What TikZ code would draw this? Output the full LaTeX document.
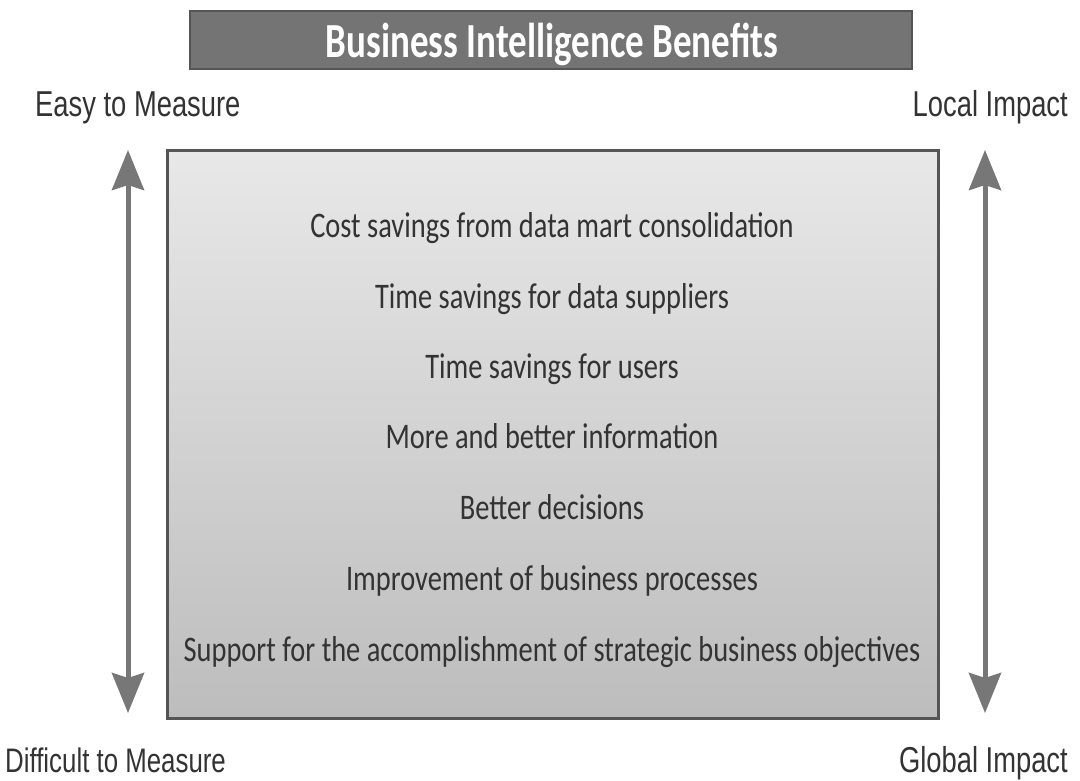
\documentclass[tikz,border=0pt]{standalone}
\usepackage{fontspec}
\setmainfont[FakeStretch=0.79]{Carlito}
\newfontfamily\titlefont[FakeStretch=0.755]{Carlito}
\newfontfamily\arialfont[FakeStretch=0.76]{Liberation Sans}
\usetikzlibrary{arrows.meta}
\definecolor{titlegray}{HTML}{747474}
\definecolor{bordergray}{HTML}{555555}
\definecolor{arrowgray}{HTML}{777777}
\definecolor{txtgray}{HTML}{333333}
\tikzset{
  benefit/.style={font=\fontsize{36}{38}\selectfont, text=txtgray, anchor=base, inner sep=0pt},
  sidelabel/.style={font=\arialfont\fontsize{36}{38}\selectfont, text=txtgray, inner sep=0pt},
  bigarrow/.style={line width=5pt, draw=arrowgray, fill=arrowgray,
    {Stealth[width=32pt,length=40pt,inset=5pt]}-{Stealth[width=32pt,length=40pt,inset=5pt]}},
}
\begin{document}
\begin{tikzpicture}[x=1pt,y=-1pt]
\useasboundingbox (0,0) rectangle (1080,780);
\fill[white] (0,0) rectangle (1080,780);
% title
\node[fill=titlegray, draw=bordergray, line width=2pt, minimum width=722pt, minimum height=58pt, inner sep=0pt] (title) at (551,40) {};
\node[font=\titlefont\bfseries\fontsize{49}{51}\selectfont, text=white, anchor=base, inner sep=0pt] (titletext) at (552,57) {Business Intelligence Benefits};
% main box
\node[draw=bordergray, line width=3pt, top color=gray!18, bottom color=gray!52, minimum width=771pt, minimum height=568pt, inner sep=0pt] (box) at (552.5,434) {};
% benefits
\node[benefit] (b1) at (552,237) {Cost savings from data mart consolidation};
\node[benefit] (b2) at (552,308) {Time savings for data suppliers};
\node[benefit] (b3) at (552,378) {Time savings for users};
\node[benefit] (b4) at (552,448) {More and better information};
\node[benefit] (b5) at (552,519) {Better decisions};
\node[benefit] (b6) at (552,590) {Improvement of business processes};
\node[benefit] (b7) at (552,661) {Support for the accomplishment of strategic business objectives};
% side labels
\node[sidelabel, anchor=base west] (easy) at (35,116) {Easy to Measure};
\node[sidelabel, anchor=base east] (local) at (1068,116) {Local Impact};
\node[sidelabel, anchor=base west, font=\arialfont\fontsize{34}{36}\selectfont] (diff) at (5,772) {Difficult to Measure};
\node[sidelabel, anchor=base east] (global) at (1068,772) {Global Impact};
% arrows
\coordinate (la) at (128,150);
\coordinate (lb) at (128,713);
\coordinate (ra) at (985,150);
\coordinate (rb) at (985,713);
\draw[bigarrow] (lb) -- (la);
\draw[bigarrow] (rb) -- (ra);
\end{tikzpicture}
\end{document}
